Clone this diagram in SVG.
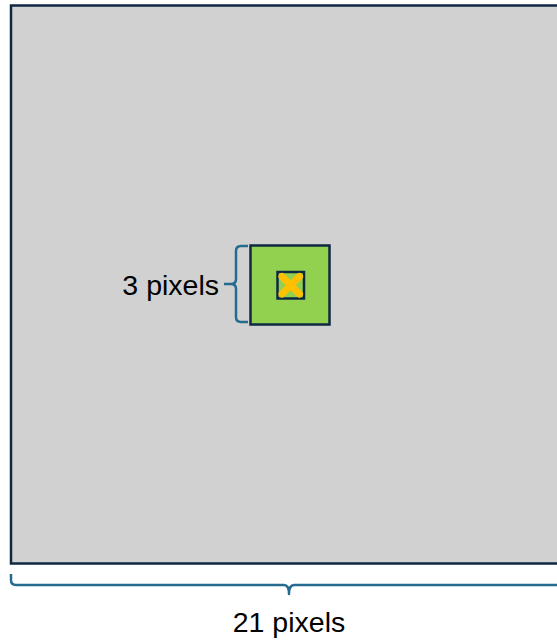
<svg xmlns="http://www.w3.org/2000/svg" width="557" height="641" viewBox="0 0 557 641">
<style>
.box{stroke:#0e2841;stroke-width:2.5}
.brace{fill:none;stroke:#246b8f;stroke-width:2.5;stroke-linejoin:round}
.lbl{font-family:"Liberation Sans",Arial,sans-serif;font-size:28.5px;fill:#000}
</style>
<rect width="557" height="641" fill="#ffffff"/>
<g id="grid">
<rect class="box" x="11" y="5.5" width="570" height="558" fill="#d1d1d1"/>
</g>
<g id="window">
<rect class="box" x="250.5" y="245.5" width="79" height="79" fill="#92d050"/>
</g>
<g id="center-pixel">
<rect class="box" x="277.5" y="272" width="26.5" height="26.5" fill="#92d050"/>
<path d="M282 276.5 L299.5 294 M299.5 276.5 L282 294" stroke="#ffc000" stroke-width="7" stroke-linecap="round"/>
</g>
<g id="connectors">
<path class="brace" d="M248 246 H241 Q236 246 236 251 V279 Q236 284 231 284 H224 M231 284 Q236 284 236 289 V317 Q236 322 241 322 H248"/>
<path class="brace" d="M11 574 V580 Q11 585 16 585 H284 Q289 585 289 594 Q289 585 294 585 H560"/>
</g>
<g id="labels">
<text class="lbl" x="219" y="295" text-anchor="end">3 pixels</text>
<text class="lbl" x="289" y="632" text-anchor="middle">21 pixels</text>
</g>
</svg>
